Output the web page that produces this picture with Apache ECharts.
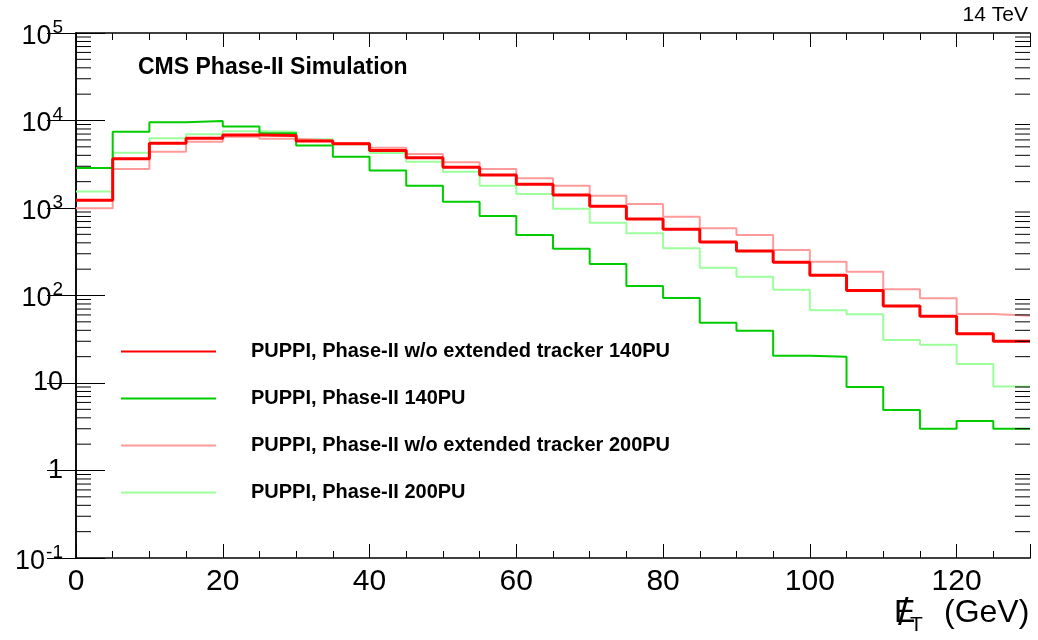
<!DOCTYPE html>
<html>
<head>
<meta charset="utf-8">
<script src="https://cdn.jsdelivr.net/npm/echarts@6/dist/echarts.min.js"></script>
<style>
html,body{margin:0;padding:0;background:#fff;}
#chart{width:1038px;height:640px;}
</style>
</head>
<body>
<div id="chart"></div>
<script>
// Bin edges (GeV), 5 GeV bins from 0 to 130
const binEdges = [0,5,10,15,20,25,30,35,40,45,50,55,60,65,70,75,80,85,90,95,100,105,110,115,120,125,130];

// Counts per bin (26 bins)
const woExt140 = [1230,3660,5490,6260,6830,6740,5830,5430,4540,3760,2920,2380,1870,1410,1050,750,572,409,323,240,170,114,76,58,36.6,30];
const phase2_140 = [2870,7450,9540,9870,8540,7140,5180,3860,2680,1800,1180,811,491,343,229,128,93.6,48.9,39.6,20.5,20.0,9.0,4.9,3.0,3.68,3.0];
const woExt200 = [992,2790,4400,5720,6530,6180,5900,5530,4890,4140,3330,2790,2190,1800,1380,1110,795,586,491,331,243,187,118,92.9,61.5,58.8];
const phase2_200 = [1540,4290,6260,6960,7550,7450,6100,5350,4250,3380,2600,1800,1445,982,679,514,347,208,164,116,67.8,61,31,27.4,16.5,9.1];

const seriesNames = [
  'PUPPI, Phase-II w/o extended tracker 140PU',
  'PUPPI, Phase-II 140PU',
  'PUPPI, Phase-II w/o extended tracker 200PU',
  'PUPPI, Phase-II 200PU'
];

// y-axis (log) decade labels
const yDecades = [0.1,1,10,100,1000,10000,100000];
const yDecadeLabels = ['{c|10}{s|-1}','{b|1}','{b|10}','{c|10}{s|2}','{c|10}{s|3}','{c|10}{s|4}','{c|10}{s|5}'];
const xLabelValues = [0,20,40,60,80,100,120];

// minor log ticks 2..9 x 10^k
const minorLogTicks = [];
for (let k = -1; k <= 4; k++) {
  for (let m = 2; m <= 9; m++) minorLogTicks.push(+(m * Math.pow(10, k)).toPrecision(3));
}

function stepData(vals) {
  return binEdges.map((x, i) => [x, vals[Math.min(i, vals.length - 1)]]);
}

const chart = echarts.init(document.getElementById('chart'), null, {renderer: 'canvas'});

const FONT = '"Liberation Sans", Arial, Helvetica, sans-serif';

function xAxisDef(pos, interval, tickLen, showLabel, showLine) {
  return {
    type: 'value', position: pos, min: 0, max: 130, interval: interval,
    axisLine: {show: showLine, lineStyle: {color: '#000', width: 1.5}},
    axisTick: {show: true, inside: true, length: tickLen, lineStyle: {color: '#000', width: 1}},
    splitLine: {show: false},
    axisLabel: {
      show: showLabel, margin: 9, color: '#000', fontSize: 30, fontFamily: FONT,
      formatter: v => (xLabelValues.indexOf(v) >= 0 ? String(v) : '')
    }
  };
}

function yAxisDef(pos, showLabel) {
  return {
    type: 'log', logBase: 10, position: pos, min: 0.1, max: 100000, splitNumber: 6,
    axisLine: {show: true, lineStyle: {color: '#000', width: 1.5}},
    axisTick: {show: true, inside: true, length: 29, lineStyle: {color: '#000', width: 1}},
    splitLine: {show: false},
    axisLabel: {
      show: showLabel, margin: 13, color: '#000', align: 'right',
      formatter: v => {
        const e = Math.round(Math.log10(v));
        const idx = yDecades.findIndex(d => Math.round(Math.log10(d)) === e);
        return idx >= 0 ? yDecadeLabels[idx] : '';
      },
      rich: {
        b: {fontSize: 27, fontFamily: FONT, color: '#000', lineHeight: 30},
        c: {fontSize: 27, fontFamily: FONT, color: '#000', lineHeight: 30, padding: [7, 0, 0, 0]},
        s: {fontSize: 19, fontFamily: FONT, color: '#000', verticalAlign: 'top', lineHeight: 24, padding: [0, 0, 0, 1]}
      }
    }
  };
}

const colors = ['#ff0000', '#00cc00', '#ff9a9a', '#9cff9c'];
const widths = [3, 2, 2, 2];
const dataSets = [woExt140, phase2_140, woExt200, phase2_200];
const zOrder = [5, 4, 3, 2];

const lineSeries = dataSets.map((vals, i) => ({
  name: seriesNames[i], type: 'line', step: 'end', data: stepData(vals),
  xAxisIndex: 0, yAxisIndex: 0, symbol: 'none', showSymbol: false,
  lineStyle: {color: colors[i], width: widths[i]}, itemStyle: {color: colors[i]},
  z: zOrder[i], animation: false, clip: true
}));

const option = {
  animation: false,
  backgroundColor: '#fff',
  grid: {left: 76, right: 8, top: 33, bottom: 82, containLabel: false, show: false},
  legend: {
    data: seriesNames, orient: 'vertical', left: 120, top: 341, padding: 0,
    itemWidth: 95, itemHeight: 14, itemGap: 26,
    selectedMode: false,
    itemStyle: {opacity: 0, borderWidth: 0},
    textStyle: {fontSize: 20, fontWeight: 'bold', fontFamily: FONT, color: '#000', lineHeight: 21, padding: [0, 0, 0, 30]}
  },
  xAxis: [
    xAxisDef('bottom', 20, 14, true, true),
    xAxisDef('bottom', 5, 7, false, false),
    xAxisDef('top', 20, 14, false, true),
    xAxisDef('top', 5, 7, false, false)
  ],
  yAxis: [
    yAxisDef('left', true),
    yAxisDef('right', false)
  ],
  series: lineSeries.concat([{
    type: 'custom', name: 'minorTicks', xAxisIndex: 0, yAxisIndex: 0, silent: true, z: 10,
    data: minorLogTicks.map(v => [0, v]),
    renderItem: function (params, api) {
      const v = api.value(1);
      const pl = api.coord([0, v]);
      const pr = api.coord([130, v]);
      return {
        type: 'group', children: [
          {type: 'line', shape: {x1: pl[0], y1: pl[1], x2: pl[0] + 15, y2: pl[1]}, style: {stroke: '#000', lineWidth: 1}},
          {type: 'line', shape: {x1: pr[0] - 15, y1: pr[1], x2: pr[0], y2: pr[1]}, style: {stroke: '#000', lineWidth: 1}}
        ]
      };
    }
  }]),
  graphic: [
    {type: 'text', left: 138, top: 56, style: {text: 'CMS Phase-II Simulation', font: 'bold 23px ' + FONT, fill: '#000'}},
    {type: 'text', right: 10, top: 5, style: {text: '14 TeV', font: '21px ' + FONT, fill: '#000'}},
    {type: 'text', x: 894, y: 597, style: {text: 'E', font: '32px ' + FONT, fill: '#000'}},
    {type: 'text', x: 898, y: 596, style: {text: '/', font: '38px ' + FONT, fill: '#000'}},
    {type: 'text', x: 910, y: 615, style: {text: 'T', font: '21px ' + FONT, fill: '#000'}},
    {type: 'text', x: 944, y: 597, style: {text: '(GeV)', font: '32px ' + FONT, fill: '#000'}}
  ]
};

chart.setOption(option);
</script>
</body>
</html>
